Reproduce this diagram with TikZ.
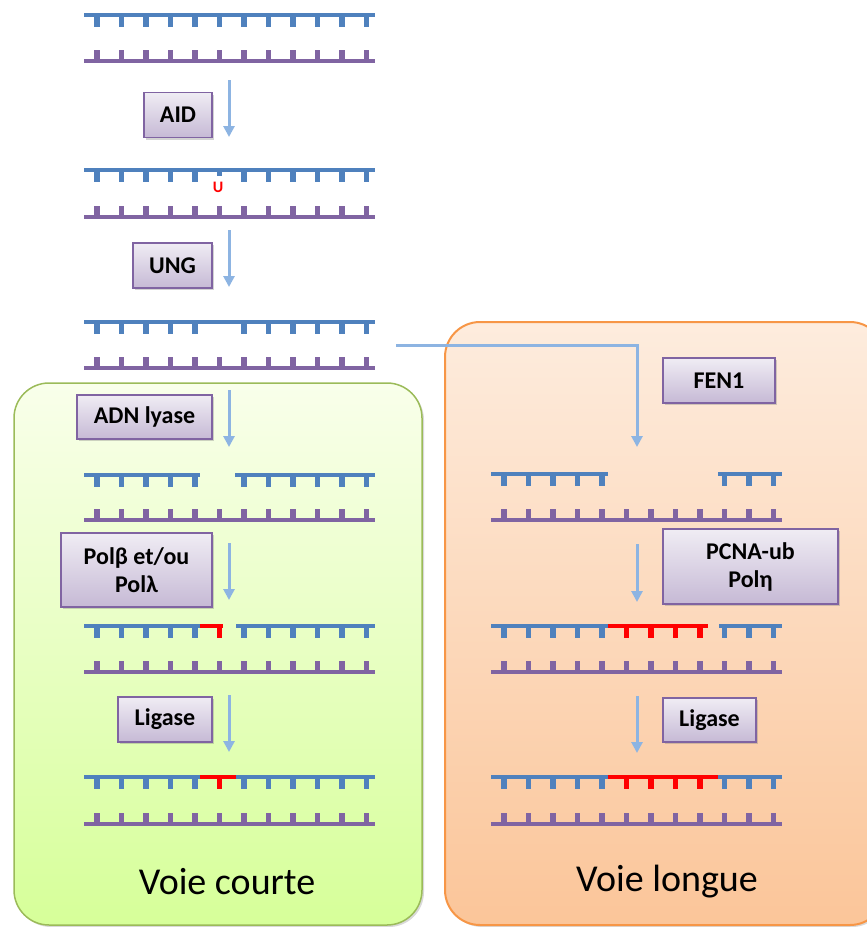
\documentclass[tikz,border=0pt]{standalone}
\usepackage{fontspec}
\setmainfont{Carlito}
\usepackage{tikz}
\usetikzlibrary{arrows.meta,shadows}
\definecolor{bleubrin}{HTML}{4F81BD}
\definecolor{violetbrin}{HTML}{8064A2}
\definecolor{rougebrin}{HTML}{FF0000}
\definecolor{bleufleche}{HTML}{8DB4E2}
\definecolor{vertbord}{HTML}{9BBB59}
\definecolor{orangebord}{HTML}{F79646}
% backbone: colour, x start, x end, y
\newcommand{\squelette}[4]{\draw[#1, line width=4.5pt] (#2,#4) -- (#3,#4);}
% ticks of the upper strand: colour, x0, y, list of positions
\newcommand{\dentshaut}[4]{\foreach \i in {#4} \draw[#1, line width=5.5pt] ({#2+13+24.5*\i},#3) -- ({#2+13+24.5*\i},#3+12);}
% lower strand, always whole: x0, y
\newcommand{\brinbas}[2]{%
	\squelette{violetbrin}{#1}{#1+291}{#2}
	\foreach \i in {0,...,11} \draw[violetbrin, line width=5.5pt] ({#1+13+24.5*\i},#2-11) -- ({#1+13+24.5*\i},#2);}

\begin{document}
\begin{tikzpicture}[x=1pt, y=-1pt,
	enzyme/.style={draw=violetbrin, line width=1.5pt, top color=violetbrin!12, bottom color=violetbrin!45,
		inner sep=0pt, align=center, font=\bfseries\fontsize{24}{28}\selectfont,
		drop shadow={shadow xshift=2pt, shadow yshift=-2pt, opacity=0.35}},
	fleche/.style={draw=bleufleche, line width=3pt, -{Triangle[length=11pt,width=11pt]}},
	voie/.style={rounded corners=35pt, line width=1.5pt,
		drop shadow={shadow xshift=2pt, shadow yshift=-2pt, opacity=0.3}},
	titre/.style={font=\fontsize{38}{42}\selectfont}]
	
	\useasboundingbox (0,0) rectangle (867,927);
	
	% Draw the two pathways
	\path[voie, draw=vertbord, top color=green!30!yellow!8, bottom color=green!40!yellow!40] (14,383) rectangle (422,925);
	\path[voie, draw=orangebord, line width=2pt, top color=orangebord!18, bottom color=orangebord!55] (445,322) rectangle (885,925);
	\node[titre] (courte) at (227,882) {Voie courte};
	\node[titre] (longue) at (667,882) {Voie longue};
	
	% Intact DNA
	\squelette{bleubrin}{84}{375}{15}
	\dentshaut{bleubrin}{84}{15}{0,...,11}
	\brinbas{84}{61}
	
	% Uracil
	\squelette{bleubrin}{84}{375}{170}
	\dentshaut{bleubrin}{84}{170}{0,...,4,6,7,...,11}
	\draw[bleubrin, line width=5.5pt] (219.5,170) -- (219.5,176);
	\node[text=rougebrin, font=\bfseries\fontsize{16}{16}\selectfont] (uracile) at (218,187) {U};
	\brinbas{84}{217}
	
	% Abasic site
	\squelette{bleubrin}{84}{375}{322}
	\dentshaut{bleubrin}{84}{322}{0,...,4,6,7,...,11}
	\brinbas{84}{368}
	
	% Short patch
	\squelette{bleubrin}{84}{200}{475}
	\squelette{bleubrin}{235}{375}{475}
	\dentshaut{bleubrin}{84}{475}{0,...,4,6,7,...,11}
	\brinbas{84}{520}
	
	\squelette{bleubrin}{84}{200}{626}
	\squelette{rougebrin}{200}{223}{626}
	\squelette{bleubrin}{236}{375}{626}
	\dentshaut{bleubrin}{84}{626}{0,...,4,6,7,...,11}
	\dentshaut{rougebrin}{84}{626}{5}
	\brinbas{84}{672}
	
	\squelette{bleubrin}{84}{200}{777}
	\squelette{rougebrin}{200}{236}{777}
	\squelette{bleubrin}{236}{375}{777}
	\dentshaut{bleubrin}{84}{777}{0,...,4,6,7,...,11}
	\dentshaut{rougebrin}{84}{777}{5}
	\brinbas{84}{824}
	
	% Long patch
	\squelette{bleubrin}{491}{608}{474}
	\squelette{bleubrin}{718}{782}{474}
	\dentshaut{bleubrin}{491}{474}{0,...,4,9,10,11}
	\brinbas{491}{520}
	
	\squelette{bleubrin}{491}{608}{626}
	\squelette{rougebrin}{608}{708}{626}
	\squelette{bleubrin}{719}{782}{626}
	\dentshaut{bleubrin}{491}{626}{0,...,4,9,10,11}
	\dentshaut{rougebrin}{491}{626}{5,...,8}
	\brinbas{491}{672}
	
	\squelette{bleubrin}{491}{608}{777}
	\squelette{rougebrin}{608}{718}{777}
	\squelette{bleubrin}{718}{782}{777}
	\dentshaut{bleubrin}{491}{777}{0,...,4,9,10,11}
	\dentshaut{rougebrin}{491}{777}{5,...,8}
	\brinbas{491}{824}
	
	% Arrows
	\foreach \ya/\yb in {80/137, 230/287, 390/447, 543/600, 695/752}
	\draw[fleche] (229,\ya) -- (229,\yb);
	\draw[fleche] (396,345) -| (637,447);
	\draw[fleche] (637,544) -- (637,602);
	\draw[fleche] (637,696) -- (637,753);
	
	% Enzymes
	\node[enzyme, minimum width=68pt, minimum height=45pt] (aid) at (178,115) {AID};
	\node[enzyme, minimum width=79pt, minimum height=45pt] (ung) at (172.5,265.5) {UNG};
	\node[enzyme, minimum width=135pt, minimum height=44pt] (lyase) at (144.5,417) {ADN lyase};
	\node[enzyme, minimum width=151pt, minimum height=74pt] (polb) at (136.5,570) {Polβ et/ou\\Polλ};
	\node[enzyme, minimum width=94pt, minimum height=45pt] (ligc) at (165,719.5) {Ligase};
	\node[enzyme, minimum width=112pt, minimum height=45pt] (fen) at (719,380.5) {FEN1};
	\node[enzyme, minimum width=175pt, minimum height=75pt] (pcna) at (750.5,566.5) {PCNA-ub\\Polη};
	\node[enzyme, minimum width=93pt, minimum height=44pt] (ligl) at (709.5,720) {Ligase};
	
\end{tikzpicture}
\end{document}
